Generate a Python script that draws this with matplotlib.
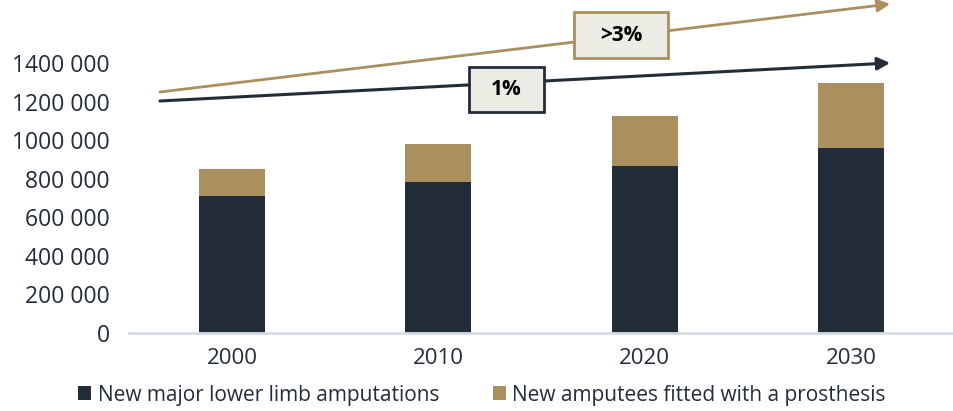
import matplotlib
matplotlib.use("Agg")
import matplotlib.pyplot as plt
from matplotlib.patches import Rectangle
import numpy as np

years = ["2000", "2010", "2020", "2030"]
amputations = [712000, 784000, 866000, 959000]
prosthesis = [140000, 197000, 259000, 337000]
yticks = [0, 200000, 400000, 600000, 800000, 1000000, 1200000, 1400000]
ytick_labels = ["0", "200 000", "400 000", "600 000", "800 000", "1000 000", "1200 000", "1400 000"]
legend_labels = ["New major lower limb amputations", "New amputees fitted with a prosthesis"]
growth_labels = [">3%", "1%"]

DARK = "#232D3A"
TAN = "#AA8F5F"
BOXFACE = "#EDECE4"

plt.rcParams['font.family'] = ['Open Sans', 'DejaVu Sans']

fig = plt.figure(figsize=(9.54, 4.11), dpi=100)
ax = fig.add_axes([129/954, 78/411, 1 - 129/954, 333/411])

x = np.arange(len(years))
w = 0.32
ax.bar(x, amputations, w, color=DARK, label=legend_labels[0])
ax.bar(x, prosthesis, w, bottom=amputations, color=TAN, label=legend_labels[1])

ax.set_xlim(-0.5, 3.5)
ax.set_ylim(0, 1.7267e6)
ax.set_yticks(yticks)
ax.set_yticklabels(ytick_labels, fontsize=16.5, color=DARK)
ax.set_xticks(x)
ax.set_xticklabels(years, fontsize=16, color=DARK)
ax.tick_params(axis='both', length=0)
ax.tick_params(axis='y', pad=14)
ax.tick_params(axis='x', pad=11)
for s in ["top", "right", "left"]:
    ax.spines[s].set_visible(False)
ax.spines["bottom"].set_color("#D5DCE6")
ax.spines["bottom"].set_linewidth(2)

# growth arrows
ax.annotate("", xy=(3.19, 1.706e6), xytext=(-0.35, 1.2496e6),
            arrowprops=dict(arrowstyle="-|>,head_length=0.75,head_width=0.38", color=TAN, lw=2,
                            shrinkA=0, shrinkB=0), annotation_clip=False)
ax.annotate("", xy=(3.19, 1.40e6), xytext=(-0.35, 1.203e6),
            arrowprops=dict(arrowstyle="-|>,head_length=0.75,head_width=0.38", color=DARK, lw=2.2,
                            shrinkA=0, shrinkB=0), annotation_clip=False)

# growth boxes
ax.add_patch(Rectangle((1.660, 1.426e6), 0.452, 0.238e6, fc=BOXFACE, ec=TAN, lw=2,
                       clip_on=False, zorder=5))
ax.text(1.886, 1.545e6, growth_labels[0], ha="center", va="center", fontsize=15,
        fontweight="bold", color="black", zorder=6)
ax.add_patch(Rectangle((1.150, 1.146e6), 0.360, 0.233e6, fc=BOXFACE, ec=DARK, lw=2,
                       clip_on=False, zorder=5))
ax.text(1.330, 1.2625e6, growth_labels[1], ha="center", va="center", fontsize=15,
        fontweight="bold", color="black", zorder=6)

fig.legend(loc="center left", bbox_to_anchor=(70/954, 16/411), ncol=2, frameon=False,
           fontsize=15, handlelength=0.62, handleheight=0.62, handletextpad=0.3,
           columnspacing=2.6, labelcolor=DARK, borderaxespad=0)

fig.savefig("out.png", dpi=100)
